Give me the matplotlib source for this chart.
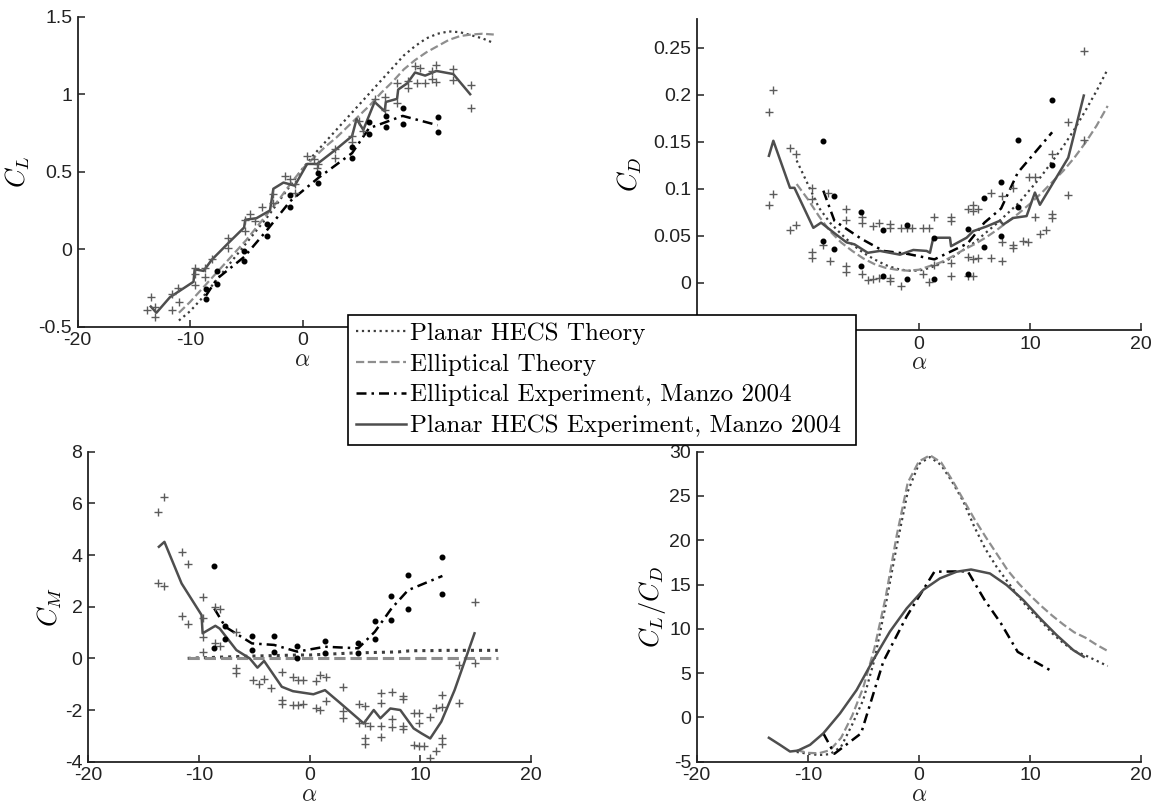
import matplotlib
matplotlib.use('Agg')
import matplotlib.pyplot as plt

plt.rcParams['mathtext.fontset'] = 'cm'
plt.rcParams['axes.unicode_minus'] = False
plt.rcParams['font.family'] = 'Liberation Sans'

# ---------------- data ----------------
# theory curves, alpha grid
th_alpha = [-11, -10, -9, -8, -7, -6, -5, -4, -3, -2, -1, 0, 1, 2, 3, 4, 5,
            6, 7, 8, 9, 10, 11, 12, 13, 14, 15, 16, 17]

cl_th_planar = [-0.46, -0.40, -0.32, -0.23, -0.14, -0.05, 0.04, 0.13, 0.22, 0.32,
                0.42, 0.52, 0.61, 0.69, 0.77, 0.85, 0.93, 1.01, 1.09, 1.17,
                1.25, 1.31, 1.36, 1.39, 1.405, 1.40, 1.38, 1.36, 1.33]
cl_th_ellip = [-0.41, -0.34, -0.26, -0.18, -0.10, -0.02, 0.06, 0.15, 0.24, 0.33,
               0.43, 0.52, 0.59, 0.66, 0.72, 0.79, 0.86, 0.93, 1.01, 1.08,
               1.16, 1.22, 1.27, 1.31, 1.35, 1.375, 1.385, 1.39, 1.385]

cd_th_planar = [0.13, 0.105, 0.08, 0.064, 0.052, 0.041, 0.032, 0.025, 0.019, 0.015,
                0.013, 0.013, 0.016, 0.021, 0.027, 0.035, 0.043, 0.053, 0.063, 0.074,
                0.085, 0.099, 0.113, 0.129, 0.145, 0.163, 0.183, 0.204, 0.227]
cd_th_ellip = [0.105, 0.089, 0.071, 0.055, 0.043, 0.034, 0.026, 0.020, 0.016, 0.014,
               0.013, 0.014, 0.018, 0.022, 0.028, 0.035, 0.041, 0.048, 0.056, 0.065,
               0.074, 0.084, 0.095, 0.107, 0.119, 0.133, 0.149, 0.167, 0.188]

cm_th_planar = [0.0, 0.02, 0.03, 0.05, 0.06, 0.08, 0.09, 0.10, 0.11, 0.12,
                0.13, 0.13, 0.15, 0.17, 0.19, 0.21, 0.22, 0.23, 0.24, 0.25,
                0.29, 0.30, 0.30, 0.31, 0.31, 0.31, 0.31, 0.31, 0.31]
cm_th_ellip = [0.03, 0.03, 0.03, 0.03, 0.03, 0.03, 0.03, 0.03, 0.03, 0.03,
               0.03, 0.03, 0.03, 0.03, 0.03, 0.03, 0.03, 0.03, 0.03, 0.03,
               0.03, 0.03, 0.03, 0.03, 0.03, 0.03, 0.03, 0.03, 0.03]

ld_th_planar = [-3.9, -4.1, -4.25, -4.15, -3.3, -0.8, 2.0, 6.5, 12.6, 19.3,
                25.5, 28.6, 29.4, 28.5, 26.6, 24.4, 21.5, 19.0, 17.0, 15.3,
                13.6, 12.1, 10.9, 9.5, 8.4, 7.5, 7.0, 6.4, 5.8]
ld_th_ellip = [-3.7, -4.0, -4.05, -3.7, -2.3, 0.2, 3.4, 7.8, 13.5, 20.5,
               26.5, 28.9, 29.6, 28.8, 26.8, 24.6, 22.4, 20.4, 18.5, 16.6,
               15.1, 13.8, 12.6, 11.5, 10.5, 9.6, 9.0, 8.2, 7.5]

# elliptical experiment (two runs + mean line)
ell_alpha = [-8.6, -7.6, -5.2, -3.2, -1.1, 1.4, 4.4, 5.9, 7.4, 8.9, 12.0]
cl_ell_run1 = [-0.26, -0.14, -0.01, 0.16, 0.35, 0.49, 0.66, 0.82, 0.86, 0.91, 0.855]
cl_ell_run2 = [-0.32, -0.225, -0.075, 0.085, 0.27, 0.43, 0.59, 0.74, 0.79, 0.81, 0.755]
cl_ell_line = [-0.30, -0.19, -0.05, 0.12, 0.31, 0.46, 0.62, 0.78, 0.82, 0.86, 0.80]
cd_ell_run1 = [0.151, 0.092, 0.0755, 0.056, 0.061, 0.0475, 0.057, 0.0897, 0.107, 0.152, 0.194]
cd_ell_run2 = [0.045, 0.036, 0.018, 0.0078, 0.0046, 0.0043, 0.0096, 0.038, 0.050, 0.081, 0.125]
cd_ell_line = [0.098, 0.066, 0.047, 0.034, 0.031, 0.025, 0.042, 0.064, 0.079, 0.117, 0.160]
cm_ell_run1 = [3.57, 1.26, 0.85, 0.85, 0.49, 0.69, 0.58, 1.46, 2.42, 3.21, 3.91]
cm_ell_run2 = [0.39, 0.75, 0.33, 0.24, 0.0, 0.19, 0.22, 0.75, 1.48, 1.91, 2.48]
cm_ell_line = [1.93, 1.22, 0.58, 0.52, 0.26, 0.45, 0.39, 1.03, 1.93, 2.64, 3.19]
ld_ell_line = [-1.8, -4.1, -1.8, 6.3, 11.4, 16.45, 16.5, 13.3, 10.6, 7.4, 5.2]

# planar HECS experiment: running line
cl_pl_alpha = [-13.5, -13.0, -11.8, -9.7, -9.6, -8.8, -8.1, -6.6, -5.2, -5.1,
               -4.1, -2.9, -2.6, -1.7, -0.7, 0.4, 1.3, 2.9, 4.4, 4.8,
               5.4, 6.4, 7.3, 7.4, 8.4, 8.5, 9.3, 10.0, 10.9, 11.9, 13.4, 14.9]
cl_pl_line = [-0.37, -0.41, -0.31, -0.21, -0.13, -0.14, -0.07, 0.04, 0.14, 0.19,
              0.20, 0.25, 0.39, 0.43, 0.41, 0.55, 0.55, 0.64, 0.73, 0.84,
              0.77, 0.95, 0.89, 0.95, 0.97, 1.03, 1.07, 1.14, 1.12, 1.15, 1.13, 1.00]

cd_pl_alpha = [-13.5, -13.1, -11.6, -11.2, -9.5, -8.8, -7.4, -6.5, -5.8, -4.6,
               -3.5, -2.6, -1.7, -0.5, 0.7, 1.0, 1.3, 2.8, 2.9, 4.3, 4.9, 6.1,
               7.3, 7.6, 8.5, 9.7, 10.45, 10.9, 13.45, 14.85]
cd_pl_line = [0.135, 0.151, 0.101, 0.101, 0.0585, 0.064, 0.051, 0.043, 0.041, 0.032,
              0.034, 0.032, 0.030, 0.035, 0.034, 0.032, 0.048, 0.048, 0.039, 0.048, 0.055, 0.060,
              0.066, 0.062, 0.069, 0.071, 0.096, 0.083, 0.133, 0.199]

cm_pl_alpha = [-13.6, -13.1, -11.55, -9.75, -9.65, -8.5, -8.1, -6.6, -5.4, -4.7,
               -4.1, -2.5, -1.5, 0.35, 1.4, 2.8, 4.9, 5.8, 6.4, 7.3,
               8.2, 9.4, 10.1, 10.9, 11.9, 13.1, 14.9]
cm_pl_line = [4.32, 4.51, 2.90, 1.68, 0.97, 1.26, 1.15, 0.32, 0.0, -0.36,
              -0.10, -1.10, -1.27, -1.39, -1.23, -1.74, -2.52, -2.0, -2.32, -1.94,
              -2.0, -2.71, -2.9, -3.1, -2.45, -1.23, 0.97]

ld_pl_alpha = [-13.5, -12.5, -11.6, -10.9, -9.8, -8.6, -7.1, -5.6, -4.1, -2.6,
               -1.1, 0.4, 1.9, 3.4, 4.7, 6.4, 7.9, 9.4, 10.9, 12.4, 13.9, 14.85]
ld_pl_line = [-2.3, -3.1, -3.85, -3.75, -3.1, -1.8, 0.45, 3.1, 6.5, 9.7,
              12.3, 14.4, 15.7, 16.45, 16.7, 16.25, 14.95, 13.25, 11.2, 9.3, 7.6, 6.85]

# planar HECS experiment: individual points
cl_pts_alpha = [-13.5, -13.8, -13.1, -13.1, -11.6, -11.1, -11.6, -11.0, -9.6, -9.6,
                -9.6, -8.7, -8.7, -8.1, -6.6, -6.6, -5.1, -5.1, -4.7, -4.2,
                -3.6, -2.6, -2.6, -1.6, -1.1, -0.7, -0.7, 0.4, 1.0, 1.25,
                1.4, 2.9, 2.9, 4.4, 4.4, 5.0, 5.4, 6.4, 7.3, 7.3,
                8.4, 8.4, 9.4, 9.4, 10.0, 10.15, 10.45, 10.9, 11.5, 11.9,
                11.5, 11.9, 13.4, 13.4, 15.0, 15.0]
cl_pts = [-0.31, -0.39, -0.37, -0.44, -0.29, -0.25, -0.39, -0.34, -0.12, -0.16,
          -0.23, -0.12, -0.18, -0.065, 0.075, 0.01, 0.19, 0.12, 0.225, 0.18,
          0.27, 0.355, 0.30, 0.47, 0.45, 0.42, 0.365, 0.60, 0.58, 0.525,
          0.55, 0.645, 0.59, 0.69, 0.73, 0.83, 0.76, 0.97, 0.98, 0.90,
          1.075, 0.946, 1.085, 1.04, 1.18, 1.075, 1.17, 1.075, 1.15, 1.19,
          1.10, 1.08, 1.16, 1.09, 1.06, 0.91]

cd_pts_alpha = [-13.5, -13.1, -13.5, -13.1, -11.6, -11.1, -11.6, -11.1, -9.6, -9.6,
                -9.6, -9.6, -8.6, -8.0, -8.2, -6.6, -6.6, -6.6, -6.6, -5.1,
                -5.1, -5.1, -4.1, -3.6, -4.6, -4.1, -3.6, -2.6, -2.6, -2.6,
                -2.6, -1.6, -1.1, -0.6, -1.6, 0.4, 0.9, 0.4, 0.9, 1.4,
                1.4, 2.9, 2.9, 2.9, 2.9, 4.4, 4.9, 5.35, 4.9, 4.4,
                4.9, 5.35, 4.4, 4.9, 6.5, 6.5, 7.45, 7.45, 7.45, 8.45,
                8.45, 8.45, 9.4, 9.85, 9.9, 10.45, 10.45, 10.9, 11.45, 11.95,
                11.95, 11.95, 13.45, 13.45, 14.9, 14.9]
cd_pts = [0.182, 0.205, 0.083, 0.094, 0.143, 0.137, 0.056, 0.062, 0.101, 0.089,
          0.033, 0.026, 0.040, 0.023, 0.096, 0.079, 0.067, 0.018, 0.012, 0.070,
          0.064, 0.010, 0.060, 0.064, 0.003, 0.004, 0.005, 0.063, 0.058, 0.005,
          0.002, 0.058, 0.058, 0.058, -0.003, 0.058, 0.058, 0.009, 0.001, 0.070,
          0.019, 0.070, 0.066, 0.021, 0.007, 0.078, 0.083, 0.078, 0.076, 0.028,
          0.025, 0.027, 0.007, 0.007, 0.096, 0.027, 0.092, 0.043, 0.023, 0.101,
          0.040, 0.037, 0.045, 0.043, 0.112, 0.112, 0.070, 0.052, 0.056, 0.137,
          0.073, 0.069, 0.171, 0.093, 0.246, 0.152]

cm_pts_alpha = [-13.7, -13.1, -13.7, -13.1, -11.55, -11.0, -11.55, -11.0, -9.65, -9.65,
                -9.65, -9.65, -8.5, -8.1, -8.5, -8.1, -6.6, -6.6, -6.6, -5.1,
                -4.6, -4.1, -3.5, -2.5, -2.5, -2.5, -1.5, -1.0, -0.55, -1.5,
                -1.0, -0.55, 0.6, 0.95, 1.5, 0.6, 0.95, 1.5, 3.0, 3.0,
                3.0, 4.5, 5.0, 4.5, 5.0, 5.0, 5.0, 5.5, 6.45, 6.45,
                6.45, 6.45, 7.45, 7.45, 7.45, 8.4, 8.4, 8.4, 8.4, 9.45,
                9.9, 9.45, 9.9, 10.35, 9.9, 10.9, 11.4, 10.9, 11.4, 12.0,
                12.0, 12.0, 12.0, 13.5, 13.5, 14.9, 14.9]
cm_pts = [5.65, 6.26, 2.90, 2.81, 4.13, 3.65, 1.65, 1.33, 2.36, 1.57,
          0.84, 0.26, 1.97, 1.93, 0.58, 0.49, 1.03, -0.39, -0.58, -0.82,
          -1.0, -0.8, -1.16, -0.54, -1.62, -1.78, -0.71, -0.84, -0.84, -1.8,
          -1.8, -1.77, -0.88, -0.65, -0.71, -1.91, -2.0, -1.65, -1.12, -2.04,
          -2.32, -1.78, -1.83, -2.52, -2.52, -3.1, -3.32, -2.62, -1.35, -1.72,
          -2.62, -3.03, -1.31, -2.36, -2.65, -1.46, -1.59, -2.62, -2.75, -2.1,
          -2.13, -3.35, -3.38, -3.38, -2.49, -2.28, -1.94, -3.87, -3.59, -1.42,
          -1.9, -3.1, -3.3, -0.26, -1.72, 2.17, -0.16]

legend_labels = ['Planar HECS Theory', 'Elliptical Theory',
                 'Elliptical Experiment, Manzo 2004',
                 'Planar HECS Experiment, Manzo 2004']

# ---------------- styles ----------------
C_DOT = '#3c3c3c'
C_DASH = '#8e8e8e'
C_SOLID = '#4e4e4e'
C_PLUS = '#5c5c5c'
DASHDOT = (0, (4, 2, 1, 2))
TICK_FS = 14

W, H = 1161.0, 808.0


def make_ax(x0, x1, ytop, ybot, xlabels):
    ax = fig.add_axes([x0 / W, 1 - ybot / H, (x1 - x0) / W, (ybot - ytop) / H])
    for s in ['top', 'right']:
        ax.spines[s].set_visible(False)
    for s in ['left', 'bottom']:
        ax.spines[s].set_linewidth(1.3)
        ax.spines[s].set_color('#222222')
    ax.tick_params(direction='in', length=5, width=1.1, labelsize=TICK_FS,
                   colors='#222222', pad=4)
    ax.set_xlim(-20, 20)
    ax.set_xticks([-20, -10, 0, 10, 20])
    ax.set_xticklabels(xlabels)
    ax.set_xlabel(r'$\alpha$', fontsize=17, labelpad=0, color='#222222')
    ax.patch.set_alpha(0)
    return ax


def set_ylab(ax, text, xpix, x0, x1):
    ax.set_ylabel(text, fontsize=19)
    ax.yaxis.set_label_coords((xpix - x0) / (x1 - x0), 0.5)
    ax.yaxis.label.set_verticalalignment('center')


def draw(ax, th_p, th_e, ell_line, pl_a, pl_line, pts_a=None, pts=None,
         run1=None, run2=None, th_lw=1.6):
    l1, = ax.plot(th_alpha, th_p, linestyle=':', color=C_DOT, lw=th_lw)
    l2, = ax.plot(th_alpha, th_e, linestyle='--', color=C_DASH, lw=th_lw)
    l3, = ax.plot(ell_alpha, ell_line, linestyle=DASHDOT, color='black', lw=1.8)
    l4, = ax.plot(pl_a, pl_line, '-', color=C_SOLID, lw=1.8)
    if pts is not None:
        ax.plot(pts_a, pts, '+', color=C_PLUS, ms=6, mew=1.0)
    if run1 is not None:
        ax.plot(ell_alpha, run1, 'o', color='black', ms=3.3)
        ax.plot(ell_alpha, run2, 'o', color='black', ms=3.3)
    return [l1, l2, l3, l4]


fig = plt.figure(figsize=(11.61, 8.08), dpi=100)

# C_L  (the 10 / 20 labels sit under the legend)
ax1 = make_ax(77.7, 527.5, 16.7, 326.7, ['-20', '-10', '0', '', ''])
handles = draw(ax1, cl_th_planar, cl_th_ellip, cl_ell_line, cl_pl_alpha, cl_pl_line,
               cl_pts_alpha, cl_pts, cl_ell_run1, cl_ell_run2)
ax1.set_ylim(-0.5, 1.5)
ax1.set_yticks([-0.5, 0, 0.5, 1, 1.5])
ax1.set_yticklabels(['-0.5', '0', '0.5', '1', '1.5'])
set_ylab(ax1, r'$C_L$', 18, 77.7, 527.5)

# C_D  (the -20 / -10 labels sit under the legend)
ax2 = make_ax(696.7, 1141, 19.3, 330, ['', '', '0', '10', '20'])
draw(ax2, cd_th_planar, cd_th_ellip, cd_ell_line, cd_pl_alpha, cd_pl_line,
     cd_pts_alpha, cd_pts, cd_ell_run1, cd_ell_run2)
ax2.set_ylim(-0.05, 0.28)
ax2.set_yticks([0, 0.05, 0.1, 0.15, 0.2, 0.25])
ax2.set_yticklabels(['0', '0.05', '0.1', '0.15', '0.2', '0.25'])
set_ylab(ax2, r'$C_D$', 630, 696.7, 1141)

# C_M
ax3 = make_ax(88, 531, 451.7, 761.7, ['-20', '-10', '0', '10', '20'])
draw(ax3, cm_th_planar, cm_th_ellip, cm_ell_line, cm_pl_alpha, cm_pl_line,
     cm_pts_alpha, cm_pts, cm_ell_run1, cm_ell_run2, th_lw=2.2)
ax3.set_ylim(-4, 8)
ax3.set_yticks([-4, -2, 0, 2, 4, 6, 8])
ax3.set_yticklabels(['-4', '-2', '0', '2', '4', '6', '8'])
set_ylab(ax3, r'$C_M$', 50, 88, 531)

# C_L / C_D
ax4 = make_ax(696.7, 1141, 451.7, 761.7, ['-20', '-10', '0', '10', '20'])
draw(ax4, ld_th_planar, ld_th_ellip, ld_ell_line, ld_pl_alpha, ld_pl_line)
ax4.set_ylim(-5, 30)
ax4.set_yticks([-5, 0, 5, 10, 15, 20, 25, 30])
ax4.set_yticklabels(['-5', '0', '5', '10', '15', '20', '25', '30'])
set_ylab(ax4, r'$C_L/C_D$', 652, 696.7, 1141)

leg = fig.legend(handles, legend_labels, loc='upper left',
                 bbox_to_anchor=(348 / W, 1 - 315 / H, (856 - 348) / W, 0),
                 mode='expand', borderaxespad=0, prop={'family': 'cmr10', 'size': 18},
                 frameon=True, fancybox=False, framealpha=1, edgecolor='black',
                 handlelength=2.0, handletextpad=0.2, labelspacing=0.33,
                 borderpad=0.3)
leg.get_frame().set_linewidth(1.2)

fig.savefig('out.png', dpi=100)
